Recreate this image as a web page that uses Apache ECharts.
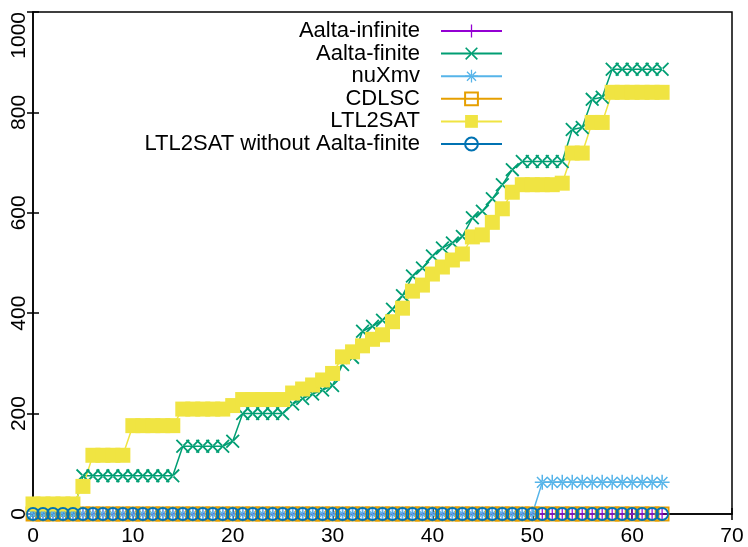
<!DOCTYPE html>
<html>
<head>
<meta charset="utf-8">
<script src="https://cdn.jsdelivr.net/npm/echarts@6/dist/echarts.min.js"></script>
<style>
  html, body { margin: 0; padding: 0; background: #fff; }
  #chart { width: 748px; height: 547px; }
</style>
</head>
<body>
<div id="chart"></div>
<script>
// x positions (benchmark index)
var xValues = [0, 1, 2, 3, 4, 5, 6, 7, 8, 9, 10, 11, 12, 13, 14, 15, 16, 17, 18, 19,
  20, 21, 22, 23, 24, 25, 26, 27, 28, 29, 30, 31, 32, 33, 34, 35, 36, 37, 38, 39,
  40, 41, 42, 43, 44, 45, 46, 47, 48, 49, 50, 51, 52, 53, 54, 55, 56, 57, 58, 59,
  60, 61, 62, 63];

var aaltaInfinite = [0, 0, 0, 0, 0, 0, 0, 0, 0, 0, 0, 0, 0, 0, 0, 0, 0, 0, 0, 0,
  0, 0, 0, 0, 0, 0, 0, 0, 0, 0, 0, 0, 0, 0, 0, 0, 0, 0, 0, 0,
  0, 0, 0, 0, 0, 0, 0, 0, 0, 0, 0, 0, 0, 0, 0, 0, 0, 0, 0, 0,
  0, 0, 0, 0];

var aaltaFinite = [0, 0, 0, 0, 0, 76, 76, 76, 76, 76, 76, 76, 76, 76, 76, 135, 135, 135, 135, 135,
  145, 200, 200, 200, 200, 200, 219, 230, 239, 247, 256, 298, 312, 364, 374, 386, 408, 435, 474, 490,
  514, 530, 540, 553, 590, 603, 628, 656, 686, 702, 702, 702, 702, 702, 766, 770, 826, 830, 886, 886,
  886, 886, 886, 886];

var nuXmv = [0, 0, 0, 0, 0, 0, 0, 0, 0, 0, 0, 0, 0, 0, 0, 0, 0, 0, 0, 0,
  0, 0, 0, 0, 0, 0, 0, 0, 0, 0, 0, 0, 0, 0, 0, 0, 0, 0, 0, 0,
  0, 0, 0, 0, 0, 0, 0, 0, 0, 0, 0, 63, 63, 63, 63, 63, 63, 63, 63, 63,
  63, 63, 63, 63];

var cdlsc = [0, 0, 0, 0, 0, 0, 0, 0, 0, 0, 0, 0, 0, 0, 0, 0, 0, 0, 0, 0,
  0, 0, 0, 0, 0, 0, 0, 0, 0, 0, 0, 0, 0, 0, 0, 0, 0, 0, 0, 0,
  0, 0, 0, 0, 0, 0, 0, 0, 0, 0, 0, 0, 0, 0, 0, 0, 0, 0, 0, 0,
  0, 0, 0, 0];

var ltl2sat = [20, 20, 20, 20, 20, 55, 117, 117, 117, 117, 176, 176, 176, 176, 176, 209, 209, 209, 209, 209,
  216, 228, 228, 228, 228, 228, 241, 249, 257, 267, 280, 313, 323, 335, 348, 357, 383, 410, 444, 456,
  478, 492, 506, 518, 552, 556, 581, 608, 641, 656, 656, 656, 656, 659, 719, 719, 780, 780, 840, 840,
  840, 840, 840, 840];

var ltl2satNoFinite = [0, 0, 0, 0, 0, 0, 0, 0, 0, 0, 0, 0, 0, 0, 0, 0, 0, 0, 0, 0,
  0, 0, 0, 0, 0, 0, 0, 0, 0, 0, 0, 0, 0, 0, 0, 0, 0, 0, 0, 0,
  0, 0, 0, 0, 0, 0, 0, 0, 0, 0, 0, 0, 0, 0, 0, 0, 0, 0, 0, 0,
  0, 0, 0, 0];

var names = ["Aalta-infinite", "Aalta-finite", "nuXmv", "CDLSC", "LTL2SAT", "LTL2SAT without Aalta-finite"];

// gnuplot-like point shapes
var plusPath = "path://M-1,-0.1L-0.1,-0.1L-0.1,-1L0.1,-1L0.1,-0.1L1,-0.1L1,0.1L0.1,0.1L0.1,1L-0.1,1L-0.1,0.1L-1,0.1Z";
var crossPath = "path://M-0.636,-0.778L0.778,0.636L0.636,0.778L-0.778,-0.636Z" +
  "M-0.636,0.778L0.778,-0.636L0.636,-0.778L-0.778,0.636Z";
var starPath = "path://M-1,-0.1L-0.1,-0.1L-0.1,-1L0.1,-1L0.1,-0.1L1,-0.1L1,0.1L0.1,0.1L0.1,1L-0.1,1L-0.1,0.1L-1,0.1Z" +
  "M-0.636,-0.778L0.778,0.636L0.636,0.778L-0.778,-0.636Z" +
  "M-0.636,0.778L0.778,-0.636L0.636,-0.778L-0.778,0.636Z";

function pairs(ys) {
  return xValues.map(function (x, i) { return [x, ys[i]]; });
}

function makeSeries(name, ys, color, symbol, size, filled) {
  return {
    name: name,
    type: "line",
    data: pairs(ys),
    symbol: symbol,
    symbolSize: size,
    showAllSymbol: true,
    clip: true,
    lineStyle: { color: color, width: 1.5 },
    itemStyle: filled
      ? { color: color }
      : { color: "rgba(0,0,0,0)", borderColor: color, borderWidth: 1.8 },
    emphasis: { disabled: true }
  };
}

var chart = echarts.init(document.getElementById("chart"), null, { renderer: "canvas" });

var fontName = "Liberation Sans";

var option = {
  animation: false,
  backgroundColor: "#fff",
  grid: {
    left: 33, right: 16, top: 12, bottom: 32,
    show: true, borderColor: "#000", borderWidth: 1.5
  },
  legend: {
    orient: "vertical",
    align: "right",
    right: 240,
    top: 15,
    itemWidth: 61,
    itemHeight: 16,
    itemGap: 0.6,
    textStyle: { fontSize: 22, color: "#000", fontFamily: fontName, padding: [0, 16, 0, 0] },
    data: names
  },
  xAxis: [{
    type: "value", min: 0, max: 70, interval: 10,
    axisLine: { show: true, lineStyle: { color: "#000", width: 1.5 } },
    axisTick: { show: true, inside: true, length: 6, lineStyle: { color: "#000", width: 1.5 } },
    axisLabel: { fontSize: 21, color: "#000", fontFamily: fontName, margin: 12 },
    splitLine: { show: false }
  }, {
    type: "value", min: 0, max: 70, interval: 10, position: "top",
    axisLine: { show: false },
    axisTick: { show: true, inside: true, length: 6, lineStyle: { color: "#000", width: 1.5 } },
    axisLabel: { show: false },
    splitLine: { show: false }
  }],
  yAxis: [{
    type: "value", min: 0, max: 1000, interval: 200,
    axisLine: { show: true, lineStyle: { color: "#000", width: 1.5 } },
    axisTick: { show: true, inside: true, length: 6, lineStyle: { color: "#000", width: 1.5 } },
    axisLabel: {
      fontSize: 21, color: "#000", fontFamily: fontName, rotate: 90, margin: 3,
      alignMaxLabel: "right",
      formatter: function (v) { return String(v); }
    },
    splitLine: { show: false }
  }, {
    type: "value", min: 0, max: 1000, interval: 200, position: "right",
    axisLine: { show: false },
    axisTick: { show: true, inside: true, length: 6, lineStyle: { color: "#000", width: 1.5 } },
    axisLabel: { show: false },
    splitLine: { show: false }
  }],
  series: [
    makeSeries(names[0], aaltaInfinite, "#9400d3", plusPath, 12, true),
    makeSeries(names[1], aaltaFinite, "#009e73", crossPath, 14, true),
    makeSeries(names[2], nuXmv, "#56b4e9", starPath, 15, true),
    makeSeries(names[3], cdlsc, "#e69f00", "rect", 13, false),
    makeSeries(names[4], ltl2sat, "#f0e442", "rect", 15, true),
    makeSeries(names[5], ltl2satNoFinite, "#0072b2", "circle", 12, false)
  ]
};

chart.setOption(option);
</script>
</body>
</html>
